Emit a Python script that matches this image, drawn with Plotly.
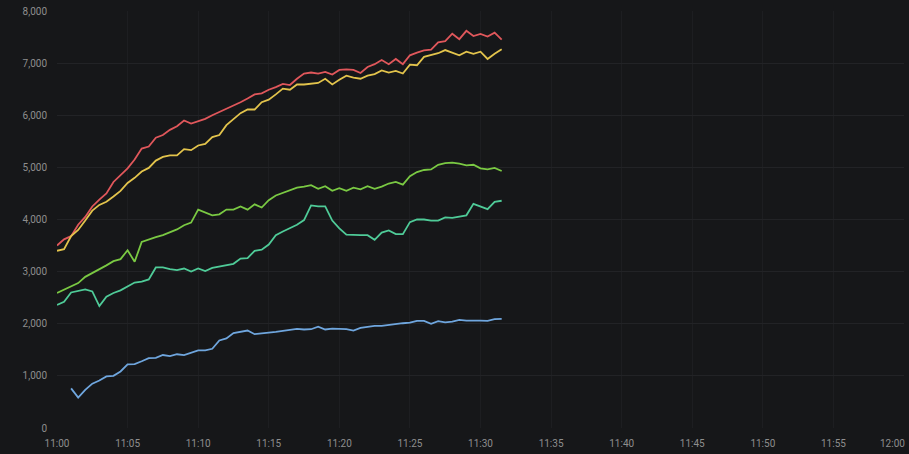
import pandas as pd
import plotly.graph_objects as go

start_time = "2024-01-01 11:00:00"
n_points = 64  # 30-second samples, 11:00:00 .. 11:31:30

red = [3500, 3620, 3680, 3900, 4050, 4250, 4380, 4500, 4720, 4850,
       4980, 5150, 5360, 5400, 5570, 5620, 5720, 5790, 5900, 5840,
       5880, 5930, 6000, 6060, 6130, 6180, 6250, 6320, 6400, 6420,
       6490, 6540, 6600, 6580, 6700, 6800, 6820, 6800, 6830, 6780,
       6870, 6880, 6870, 6810, 6925, 6980, 7060, 6980, 7080, 6980,
       7150, 7200, 7245, 7260, 7400, 7420, 7565, 7460, 7620, 7520,
       7560, 7510, 7585, 7450]

yellow = [3400, 3430, 3680, 3800, 3980, 4170, 4280, 4340, 4440, 4550,
          4700, 4800, 4920, 4990, 5130, 5200, 5230, 5230, 5350, 5330,
          5420, 5450, 5580, 5620, 5810, 5920, 6040, 6110, 6110, 6250,
          6300, 6400, 6510, 6490, 6590, 6590, 6600, 6620, 6700, 6590,
          6680, 6760, 6720, 6700, 6760, 6790, 6860, 6820, 6850, 6800,
          6970, 6960, 7120, 7150, 7190, 7250, 7200, 7150, 7220, 7180,
          7220, 7080, 7180, 7265]

green = [2590, 2650, 2720, 2780, 2900, 2970, 3050, 3120, 3200, 3240,
         3410, 3190, 3570, 3620, 3660, 3700, 3760, 3810, 3890, 3940,
         4190, 4130, 4080, 4100, 4190, 4190, 4250, 4190, 4290, 4230,
         4370, 4460, 4510, 4560, 4610, 4630, 4660, 4590, 4640, 4550,
         4600, 4550, 4610, 4580, 4640, 4590, 4630, 4690, 4720, 4670,
         4830, 4910, 4950, 4960, 5050, 5080, 5090, 5070, 5040, 5050,
         4980, 4960, 4990, 4930]

teal = [2360, 2420, 2600, 2630, 2660, 2620, 2340, 2520, 2590, 2640,
        2720, 2790, 2810, 2850, 3080, 3080, 3050, 3030, 3060, 3000,
        3060, 3010, 3070, 3100, 3120, 3150, 3250, 3260, 3400, 3420,
        3520, 3700, 3770, 3830, 3900, 3990, 4270, 4250, 4250, 3980,
        3830, 3710, 3700, 3700, 3700, 3610, 3750, 3790, 3720, 3720,
        3950, 4000, 4000, 3980, 3980, 4040, 4030, 4060, 4080, 4300,
        4250, 4200, 4340, 4360]

blue = [None, None, 760, 585, 730, 850, 910, 990, 1000, 1085,
        1220, 1225, 1280, 1340, 1345, 1400, 1380, 1415, 1400, 1440,
        1490, 1490, 1520, 1680, 1720, 1820, 1850, 1870, 1800, 1820,
        1830, 1845, 1860, 1880, 1900, 1890, 1895, 1945, 1890, 1905,
        1905, 1895, 1870, 1920, 1940, 1960, 1960, 1980, 1995, 2010,
        2020, 2055, 2055, 2000, 2050, 2025, 2040, 2075, 2060, 2065,
        2060, 2055, 2090, 2095]

y_ticks = [0, 1000, 2000, 3000, 4000, 5000, 6000, 7000, 8000]
y_tick_labels = ["0", "1,000", "2,000", "3,000", "4,000", "5,000", "6,000", "7,000", "8,000"]
x_end_label = "12:00"

times = pd.date_range(start_time, periods=n_points, freq="30s")
x_start = pd.Timestamp("2024-01-01 11:00:00")
x_end = pd.Timestamp("2024-01-01 12:00:00")

series = [
    ("red", red, "#E0575B"),
    ("yellow", yellow, "#E3C44C"),
    ("green", green, "#7AC943"),
    ("teal", teal, "#4FCB98"),
    ("blue", blue, "#6FA6DE"),
]

fig = go.Figure()
for name, vals, color in series:
    fig.add_trace(go.Scatter(x=times, y=vals, mode="lines", name=name,
                             line=dict(color=color, width=1.8),
                             connectgaps=False))

fig.update_layout(
    width=909, height=454,
    paper_bgcolor="#161719", plot_bgcolor="#161719",
    margin=dict(l=57, r=5, t=8, b=22),
    showlegend=False,
    font=dict(family="Roboto, sans-serif", size=10, color="#8e8e8e"),
)
fig.update_xaxes(
    range=[x_start, x_end],
    dtick=300000, tick0="2024-01-01 11:00:00", tickformat="%H:%M",
    showgrid=True, gridcolor="#1d1e21", gridwidth=1,
    zeroline=False, showline=False, ticks="", ticklabelstandoff=8,
)
fig.update_yaxes(
    range=[0, 8000], tickvals=y_ticks, ticktext=y_tick_labels,
    showgrid=True, gridcolor="#222326", gridwidth=1,
    zeroline=False, showline=False, ticks="", ticklabelstandoff=9,
)
fig.add_annotation(x=x_end, xref="x", y=0, yref="paper", yshift=-8, xshift=3,
                   text=x_end_label, showarrow=False, xanchor="right",
                   yanchor="top", font=dict(size=10, color="#8e8e8e"))

fig.write_html(
    "out.html",
    config={"displayModeBar": False},
    post_script="document.body.style.margin='0';document.body.style.background='#161719';",
)
